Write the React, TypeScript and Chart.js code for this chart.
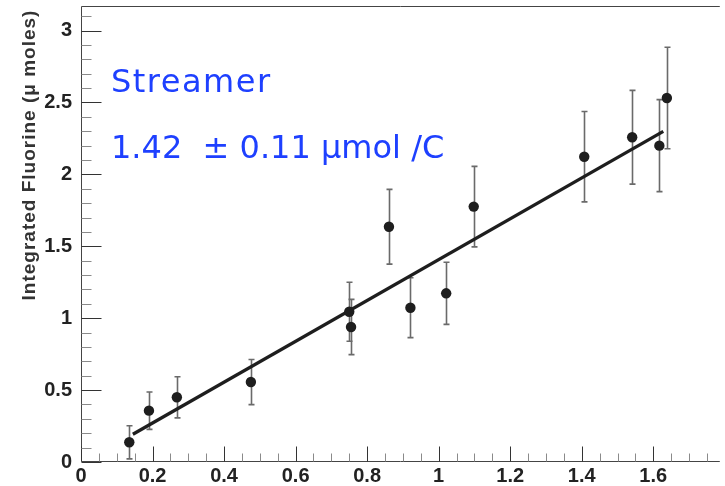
import React, { useEffect, useRef } from "react";
import { Chart, registerables } from "chart.js";

Chart.register(...registerables);

// Collected charge (C) and integrated fluorine (µmol) per run
const chargeC = [0.135, 0.19, 0.268, 0.475, 0.75, 0.755, 0.861, 0.921, 1.021, 1.098, 1.407, 1.541, 1.617, 1.638];
const fluorine = [0.137, 0.357, 0.45, 0.556, 1.045, 0.939, 1.636, 1.073, 1.173, 1.776, 2.123, 2.258, 2.2, 2.531];
const fluorineErr = [0.115, 0.13, 0.143, 0.157, 0.205, 0.192, 0.26, 0.208, 0.216, 0.28, 0.314, 0.326, 0.32, 0.353];

// Linear fit result
const fitSlope = 1.42;
const fitSlopeErr = 0.11;
const fitIntercept = -0.013;
const fitRange = [0.145, 1.628];

// Axis ticks and ranges
const xTicks = [0, 0.2, 0.4, 0.6, 0.8, 1, 1.2, 1.4, 1.6];
const yTicks = [0, 0.5, 1, 1.5, 2, 2.5, 3];
const xMax = 1.786;
const yMax = 3.171;
const xMinorStep = 0.05;
const yMinorStep = 0.1;

const yTitle = "Integrated Fluorine (\u03bc moles)";
const labelTitle = "Streamer";
const labelFit = `${fitSlope.toFixed(2)}  \u00b1 ${fitSlopeErr.toFixed(2)} \u03bcmol /C`;

const tickFont = { family: "'Liberation Sans', Arial, sans-serif", size: 20, weight: "bold" as const };
const ink = "#1e1e1e";

const framePlugin = {
  id: "rootFrame",
  beforeDatasetsDraw(chart: any) {
    const { ctx, scales } = chart;
    const x = scales.x;
    const y = scales.y;
    ctx.save();
    ctx.strokeStyle = "#6a6a6a";
    ctx.lineWidth = 1.6;
    chargeC.forEach((cx, i) => {
      const px = Math.round(x.getPixelForValue(cx)) + 0.5;
      const top = y.getPixelForValue(fluorine[i] + fluorineErr[i]);
      const bot = y.getPixelForValue(fluorine[i] - fluorineErr[i]);
      ctx.beginPath();
      ctx.moveTo(px, top);
      ctx.lineTo(px, bot);
      ctx.moveTo(px - 3, top);
      ctx.lineTo(px + 3, top);
      ctx.moveTo(px - 3, bot);
      ctx.lineTo(px + 3, bot);
      ctx.stroke();
    });
    ctx.restore();
  },
  afterDraw(chart: any) {
    const { ctx, chartArea: a, scales } = chart;
    const x = scales.x;
    const y = scales.y;
    ctx.save();

    // frame
    ctx.strokeStyle = "#444";
    ctx.lineWidth = 1;
    const L = Math.round(a.left) + 0.5;
    const T = Math.round(a.top) + 0.5;
    const B = Math.round(a.bottom) - 0.5;
    ctx.beginPath();
    ctx.moveTo(a.right, T);
    ctx.lineTo(L, T);
    ctx.lineTo(L, B);
    ctx.lineTo(a.right, B);
    ctx.stroke();

    // inward ticks on x
    const nx = Math.floor(xMax / xMinorStep + 1e-6);
    for (let i = 0; i <= nx; i++) {
      const px = Math.round(x.getPixelForValue(i * xMinorStep)) + 0.5;
      const major = i % 4 === 0;
      ctx.strokeStyle = major ? "#333" : "#8a8a8a";
      ctx.beginPath();
      ctx.moveTo(px, B);
      ctx.lineTo(px, B - (major ? 15 : 8));
      ctx.stroke();
    }
    // inward ticks on y
    const ny = Math.floor(yMax / yMinorStep + 1e-6);
    for (let i = 0; i <= ny; i++) {
      const py = Math.round(y.getPixelForValue(i * yMinorStep)) + 0.5;
      const major = i % 5 === 0;
      ctx.strokeStyle = major ? "#333" : "#8a8a8a";
      ctx.beginPath();
      ctx.moveTo(L, py);
      ctx.lineTo(L + (major ? 20 : 10), py);
      ctx.stroke();
    }

    // y axis title
    ctx.save();
    ctx.translate(30, 155);
    ctx.rotate(-Math.PI / 2);
    ctx.fillStyle = "#333";
    ctx.font = "bold 19px 'Liberation Sans', Arial, sans-serif";
    (ctx as any).letterSpacing = "1px";
    ctx.textAlign = "center";
    ctx.textBaseline = "middle";
    ctx.fillText(yTitle, 0, 0);
    ctx.restore();

    // fit annotation
    ctx.fillStyle = "#1e40ff";
    ctx.font = "32px 'DejaVu Sans', sans-serif";
    ctx.textAlign = "left";
    ctx.textBaseline = "alphabetic";
    (ctx as any).letterSpacing = "1.5px";
    ctx.fillText(labelTitle, 111, 92);
    (ctx as any).letterSpacing = "0px";
    ctx.fillText(labelFit, 111, 158);

    ctx.restore();
  },
};

export default function App() {
  const ref = useRef<HTMLCanvasElement | null>(null);

  useEffect(() => {
    if (!ref.current) return;
    const chart = new Chart(ref.current, {
      type: "scatter",
      data: {
        datasets: [
          {
            label: "data",
            data: chargeC.map((v, i) => ({ x: v, y: fluorine[i] })),
            pointRadius: 5.2,
            pointHoverRadius: 5.2,
            backgroundColor: ink,
            borderColor: ink,
            borderWidth: 0,
          },
          {
            label: "fit",
            type: "line",
            data: fitRange.map((v) => ({ x: v, y: fitSlope * v + fitIntercept })),
            borderColor: ink,
            borderWidth: 3.3,
            pointRadius: 0,
            showLine: true,
            fill: false,
          } as any,
        ],
      },
      options: {
        responsive: false,
        animation: false,
        events: [],
        layout: { padding: { top: 6, left: 0, right: 0, bottom: 0 } },
        plugins: { legend: { display: false }, tooltip: { enabled: false } },
        scales: {
          x: {
            type: "linear",
            min: 0,
            max: xMax,
            afterBuildTicks: (s: any) => {
              s.ticks = xTicks.map((v) => ({ value: v }));
            },
            afterFit: (s: any) => {
              s.height = 24;
              s.paddingLeft = 0;
              s.paddingRight = 0;
            },
            grid: { display: false, drawTicks: false },
            border: { display: false },
            ticks: {
              padding: 2,
              font: tickFont,
              color: "#222",
              maxRotation: 0,
              autoSkip: false,
              callback: (v: any) => String(v),
            },
          },
          y: {
            type: "linear",
            min: 0,
            max: yMax,
            afterBuildTicks: (s: any) => {
              s.ticks = yTicks.map((v) => ({ value: v }));
            },
            afterFit: (s: any) => {
              s.width = 81;
              s.paddingTop = 0;
              s.paddingBottom = 0;
            },
            grid: { display: false, drawTicks: false },
            border: { display: false },
            ticks: {
              padding: 9,
              font: tickFont,
              color: "#222",
              autoSkip: false,
              callback: (v: any) => String(v),
            },
          },
        },
      },
      plugins: [framePlugin],
    });
    return () => chart.destroy();
  }, []);

  return (
    <div style={{ position: "absolute", left: 0, top: 0, width: 725, height: 486, overflow: "hidden", background: "#fff" }}>
      <canvas ref={ref} width={725} height={486} style={{ display: "block" }} />
    </div>
  );
}
